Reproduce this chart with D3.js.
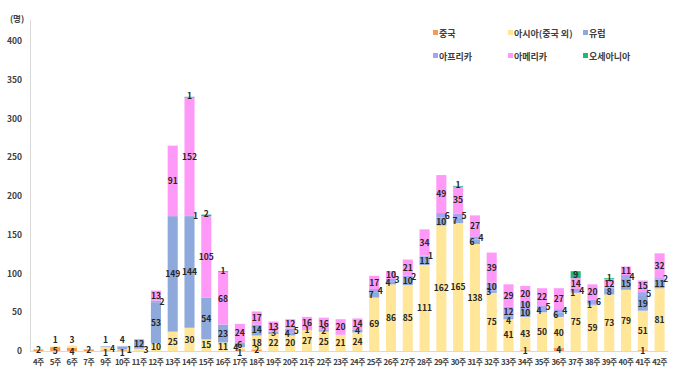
<!DOCTYPE html>
<html><head><meta charset="utf-8">
<script src="https://cdn.jsdelivr.net/npm/d3@7"></script>
<style>
body{margin:0;background:#fff;}
text{font-family:"Noto Sans CJK KR","Noto Sans",sans-serif;}
</style></head>
<body><svg id="c" width="680" height="378"></svg>
<script>
const weeks = ["4주","5주","6주","7주","9주","10주","11주","12주","13주","14주","15주","16주","17주","18주","19주","20주","21주","22주","23주","24주","25주","26주","27주","28주","29주","30주","31주","32주","33주","34주","35주","36주","37주","38주","39주","40주","41주","42주"];
const seriesNames = ["중국","아시아(중국 외)","유럽","아프리카","아메리카","오세아니아"];
const seriesColors = ["#F59A50","#FFE699","#8EA9DB","#A8A2F5","#FF99F7","#1DB87A"];
const china    = [2,5,4,2,1,1,0,0,0,0,0,0,1,2,0,0,0,0,0,0,0,0,0,0,0,0,0,0,0,1,0,4,0,0,0,0,1,0];
const asia     = [0,1,3,0,4,1,3,10,25,30,15,11,4,18,22,20,27,25,21,24,69,86,85,111,162,165,138,75,41,43,50,40,75,59,73,79,51,81];
const europe   = [0,0,0,0,1,4,12,53,149,144,54,23,6,14,3,4,1,2,0,4,7,4,10,11,10,7,6,3,4,10,4,6,1,1,8,15,19,11];
const africa   = [0,0,0,0,0,0,0,2,0,1,0,0,0,0,0,5,0,0,0,0,4,3,2,1,6,5,4,10,12,10,5,4,4,6,0,4,5,2];
const america  = [0,0,0,0,0,0,0,13,91,152,105,68,24,17,13,12,16,16,20,14,17,10,21,34,49,35,27,39,29,20,22,27,14,20,12,11,15,32];
const oceania  = [0,0,0,0,0,0,0,0,0,1,2,1,0,0,0,0,0,0,0,0,0,0,0,0,0,1,0,0,0,0,0,0,9,0,1,0,0,0];
const yTicks = [0,50,100,150,200,250,300,350,400];

const keys = ["china","asia","europe","africa","america","oceania"];
const rows = weeks.map((w,i)=>({week:w,china:china[i],asia:asia[i],europe:europe[i],africa:africa[i],america:america[i],oceania:oceania[i]}));
const stack = d3.stack().keys(keys)(rows);
const totals = rows.map(r=>keys.reduce((a,k)=>a+r[k],0));

const svg = d3.select("#c");
const x = d3.scaleBand().domain(weeks).range([30,668]).paddingInner(0.4).paddingOuter(0.2);
const y = d3.scaleLinear().domain([0,400]).range([351,41]);

svg.append("line").attr("x1",30.5).attr("x2",30.5).attr("y1",20).attr("y2",351).attr("stroke","#d9d9d9");
svg.append("line").attr("x1",30).attr("x2",668).attr("y1",351.5).attr("y2",351.5).attr("stroke","#d9d9d9");

svg.append("g").selectAll("text").data(yTicks).join("text")
  .attr("x",22).attr("y",d=>y(d)+3).attr("text-anchor","end")
  .attr("font-size",8.5).attr("font-weight","bold").attr("fill","#404040").text(d=>d);
svg.append("text").attr("x",17).attr("y",22).attr("text-anchor","middle")
  .attr("font-size",8.5).attr("font-weight","bold").attr("fill","#404040").text("(명)");

const g = svg.append("g");
stack.forEach((s,si)=>{
  g.selectAll(null).data(s).join("rect")
    .attr("x",d=>x(d.data.week)).attr("width",x.bandwidth())
    .attr("y",d=>y(d[1])).attr("height",d=>y(d[0])-y(d[1]))
    .attr("fill",seriesColors[si]);
});

const labels = [];
stack.forEach((s,si)=>{
  s.forEach((d,i)=>{
    const v = d[1]-d[0];
    if(v<=0) return;
    const h = y(d[0])-y(d[1]);
    const cx = x(d.data.week)+x.bandwidth()/2;
    let lx = cx, ly = (y(d[0])+y(d[1]))/2+3.2;
    const isTop = Math.abs(d[1]-totals[i])<1e-9;
    const k = keys[si];
    const afH = y(0)-y(africa[i]);
    if(h<6){
      if(isTop && totals[i]<20 && si!==0){ ly = y(d[1])-3; }
      else if(k==="oceania"){ ly = y(d[1])+2.5; }
      else if(k==="africa"){ lx = cx+6; }
      else if(k==="europe" && africa[i]>0 && afH<8){ lx = cx-3; }
      else if(k==="europe" && afH>=8){ ly += 3.5; }
      else if(k==="asia" && totals[i]<20 && !isTop){ lx = cx+7; }
      else if(k==="asia" && china[i]>0){ lx = cx-4; ly -= 1; }
      else if(k==="china" && asia[i]>0 && asia[i]<10){ ly += 2; }
    }
    labels.push({t:v,x:lx,y:ly});
  });
});
g.selectAll("text.l").data(labels).join("text").attr("class","l")
  .attr("x",d=>d.x).attr("y",d=>d.y)
  .attr("text-anchor","middle").attr("font-size",8.5).attr("font-weight","bold").attr("fill","#262626")
  .text(d=>d.t);

svg.append("g").selectAll("text").data(weeks).join("text")
  .attr("x",d=>x(d)+x.bandwidth()/2).attr("y",365).attr("text-anchor","middle")
  .attr("font-size",7.8).attr("letter-spacing",-0.5).attr("font-weight","bold").attr("fill","#404040").text(d=>d);

const legPos = [[433,34],[508,34],[583,34],[433,57],[508,57],[583,57]];
seriesNames.forEach((n,i)=>{
  const [lx,ly]=legPos[i];
  svg.append("rect").attr("x",lx).attr("y",ly-4).attr("width",5).attr("height",5).attr("fill",seriesColors[i]);
  svg.append("text").attr("x",lx+6).attr("y",ly+2.5).attr("font-size",9).attr("font-weight","bold").attr("fill","#404040").text(n);
});
</script></body></html>
